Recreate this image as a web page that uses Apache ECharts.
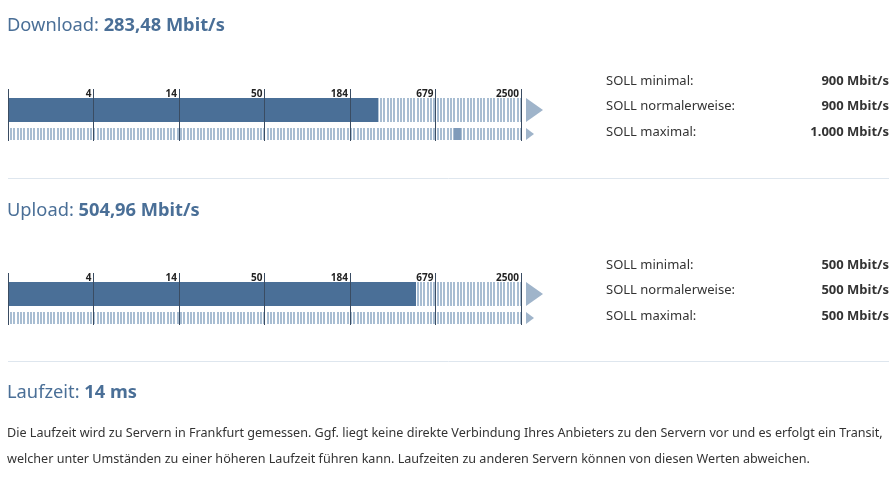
<!DOCTYPE html>
<html><head><meta charset="utf-8">
<script src="https://cdn.jsdelivr.net/npm/echarts@6/dist/echarts.min.js"></script>
<style>html,body{margin:0;padding:0;background:#fff}#c{width:895px;height:478px}</style>
</head><body><div id="c"></div>
<script>
// ---- data ----
const gaugeNames = ['Download', 'Upload'];
const measured = [283.48, 504.96];          // Mbit/s
const sollMin = [900, 500];
const sollNormal = [900, 500];
const sollMax = [1000, 500];
const axisMin = 1;
const axisMax = 2500;
const axisSteps = 6;                         // ticks: 4, 14, 50, 184, 679, 2500
const latency = 14;                          // ms
const sollLabels = ['SOLL minimal:', 'SOLL normalerweise:', 'SOLL maximal:'];
const noteLines = [
  'Die Laufzeit wird zu Servern in Frankfurt gemessen. Ggf. liegt keine direkte Verbindung Ihres Anbieters zu den Servern vor und es erfolgt ein Transit,',
  'welcher unter Umständen zu einer höheren Laufzeit führen kann. Laufzeiten zu anderen Servern können von diesen Werten abweichen.'
];

// ---- styles ----
const BAR = '#4a6f97', STRIPE = '#a8bdd2', TRI = '#9fb4ca', MARK = '#7f9bba', TITLE = '#4a6f97', TXT = '#333';
const FONT = '"Noto Sans", "Open Sans", sans-serif';

function de(n, dec) {
  let s = n.toFixed(dec);
  let [i, f] = s.split('.');
  i = i.replace(/\B(?=(\d{3})+(?!\d))/g, '.');
  return f ? i + ',' + f : i;
}

const pc = document.createElement('canvas');
pc.width = 10; pc.height = 2;
const g = pc.getContext('2d');
g.fillStyle = '#fff'; g.fillRect(0, 0, 10, 2);
g.fillStyle = STRIPE;
g.fillRect(0, 0, 2, 2); g.fillRect(3, 0, 2, 2); g.fillRect(7, 0, 2, 2);
const stripe = { image: pc, repeat: 'repeat' };

const gridTops = [89, 273];
const titleY = [26, 211];

function renderGauge(params, api) {
  const cs = params.coordSys;
  const x0 = api.coord([axisMin, 0])[0];
  const xm = api.coord([axisMax, 0])[0];
  const xv = api.coord([api.value(0), 0])[0];
  const xlo = api.coord([api.value(1), 0])[0];
  const xhi = api.coord([api.value(2), 0])[0];
  const t = cs.y;
  return { type: 'group', children: [
    { type: 'rect', shape: { x: x0, y: t + 9, width: xv - x0, height: 24 }, style: { fill: BAR } },
    { type: 'rect', shape: { x: xv, y: t + 9, width: xm - xv, height: 24 }, style: { fill: stripe } },
    { type: 'rect', shape: { x: x0 + 2, y: t + 39, width: xm - x0 - 2, height: 12 }, style: { fill: stripe } },
    { type: 'rect', shape: { x: xlo, y: t + 39, width: Math.max(0, xhi - xlo), height: 12 }, style: { fill: MARK } },
    { type: 'polygon', shape: { points: [[xm + 5, t + 9], [xm + 22, t + 21], [xm + 5, t + 33]] }, style: { fill: TRI } },
    { type: 'polygon', shape: { points: [[xm + 5, t + 39], [xm + 13, t + 45], [xm + 5, t + 51]] }, style: { fill: TRI } }
  ]};
}

const grids = [], xAxes = [], yAxes = [], series = [], graphics = [];
gaugeNames.forEach((name, i) => {
  grids.push({ left: 8, width: 513, top: gridTops[i], height: 52 });
  xAxes.push({
    type: 'log', gridIndex: i, min: axisMin, max: axisMax,
    logBase: Math.pow(axisMax, 1 / axisSteps), splitNumber: 5,
    position: 'top', offset: -9, z: 5,
    axisLine: { show: false }, axisTick: { show: false },
    axisLabel: {
      show: true, inside: false, margin: -1, align: 'right', padding: [0, 2, 0, 0],
      fontSize: 10, fontWeight: 'bold', color: '#222', fontFamily: FONT,
      formatter: v => v < 1.5 ? '' : String(Math.round(v))
    },
    splitLine: { show: true, lineStyle: { color: '#3a4c62', width: 1 } }
  });
  yAxes.push({ type: 'value', gridIndex: i, min: 0, max: 1, show: false });
  series.push({
    type: 'custom', xAxisIndex: i, yAxisIndex: i, z: 2, clip: false, silent: true,
    encode: { x: [0, 1, 2] },
    data: [[measured[i], sollMin[i], sollMax[i]]],
    renderItem: renderGauge
  });
  graphics.push({
    type: 'text', x: 7, y: titleY[i],
    style: {
      text: '{a|' + name + ': }{b|' + de(measured[i], 2) + ' Mbit/s}',
      textVerticalAlign: 'middle',
      rich: {
        a: { fontSize: 18.3, fontFamily: FONT, fill: TITLE, fontWeight: 'normal' },
        b: { fontSize: 18.3, fontFamily: FONT, fill: TITLE, fontWeight: 'bold' }
      }
    }
  });
  const vals = [sollMin[i], sollNormal[i], sollMax[i]];
  const rowY = [gridTops[i] - 8, gridTops[i] + 17, gridTops[i] + 43];
  sollLabels.forEach((lab, k) => {
    graphics.push({ type: 'text', x: 606, y: rowY[k], style: { text: lab, font: '13px ' + FONT, fill: TXT, textVerticalAlign: 'middle' } });
    graphics.push({ type: 'text', x: 889, y: rowY[k], style: { text: de(vals[k], 0) + ' Mbit/s', font: 'bold 13px ' + FONT, fill: TXT, textAlign: 'right', textVerticalAlign: 'middle' } });
  });
});

[178, 361].forEach(y => graphics.push({ type: 'line', shape: { x1: 8, y1: y + 0.5, x2: 889, y2: y + 0.5 }, style: { stroke: '#dee6ee', lineWidth: 1 } }));

graphics.push({
  type: 'text', x: 7, y: 393,
  style: {
    text: '{a|Laufzeit: }{b|' + latency + ' ms}',
    textVerticalAlign: 'middle',
    rich: {
      a: { fontSize: 18.3, fontFamily: FONT, fill: TITLE },
      b: { fontSize: 18.3, fontFamily: FONT, fill: TITLE, fontWeight: 'bold' }
    }
  }
});
noteLines.forEach((line, k) => graphics.push({
  type: 'text', x: 7, y: 433 + k * 26,
  style: { text: line, font: '12.6px ' + FONT, fill: TXT, textVerticalAlign: 'middle' }
}));

const chart = echarts.init(document.getElementById('c'));
chart.setOption({
  animation: false,
  grid: grids, xAxis: xAxes, yAxis: yAxes, series: series,
  graphic: graphics
});
</script></body></html>
